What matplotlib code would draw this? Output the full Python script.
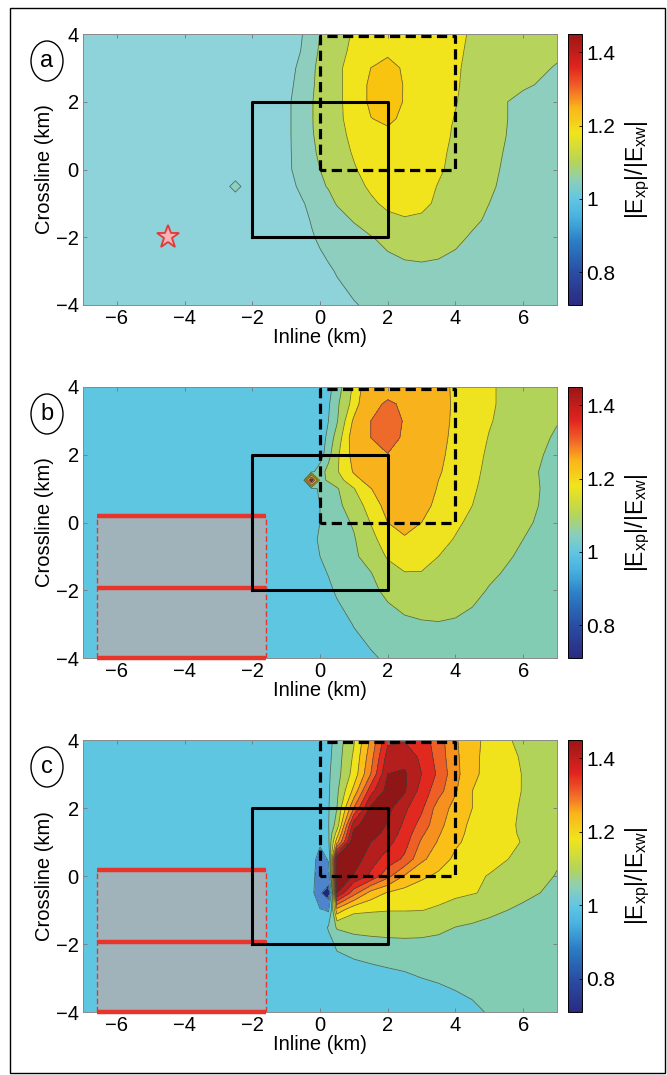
import numpy as np
import matplotlib
matplotlib.use("Agg")
import matplotlib.pyplot as plt
from matplotlib.colors import LinearSegmentedColormap, Normalize
from matplotlib.cm import ScalarMappable
from matplotlib.patches import Ellipse, Rectangle

plt.rcParams['font.family'] = ['Liberation Sans', 'DejaVu Sans']

# grid nodes (km); rows of the ratio tables run from crossline +4 down to -4
inline_km = [-7, -3, -2.5, -2, -1, -0.5, -0.25, 0, 0.25, 0.5, 1, 1.5, 2, 2.5, 3, 3.5, 4, 4.5, 5, 6, 7]
crossline_km = [4, 3.5, 3, 2.5, 2, 1.5, 1.25, 1, 0.5, 0, -0.5, -1, -1.5, -2, -3, -4]

# |Exp|/|Exw|
ratio_a = [
    [1.0, 1.0, 1.0, 1.0, 1.0, 1.031, 1.05, 1.07, 1.085, 1.10, 1.125, 1.15, 1.16, 1.16, 1.155, 1.145, 1.13, 1.115, 1.105, 1.09, 1.08],
    [1.0, 1.0, 1.0, 1.0, 1.0, 1.035, 1.055, 1.075, 1.09, 1.105, 1.13, 1.165, 1.185, 1.17, 1.155, 1.145, 1.13, 1.11, 1.10, 1.085, 1.075],
    [1.0, 1.0, 1.0, 1.0, 1.01, 1.045, 1.062, 1.08, 1.095, 1.11, 1.14, 1.2, 1.225, 1.19, 1.16, 1.145, 1.125, 1.11, 1.095, 1.08, 1.068],
    [1.0, 1.0, 1.0, 1.0, 1.015, 1.05, 1.065, 1.08, 1.092, 1.105, 1.15, 1.215, 1.24, 1.195, 1.165, 1.145, 1.125, 1.105, 1.09, 1.075, 1.06],
    [1.0, 1.0, 1.0, 1.0, 1.02, 1.055, 1.068, 1.08, 1.092, 1.105, 1.15, 1.215, 1.235, 1.195, 1.16, 1.14, 1.122, 1.105, 1.082, 1.06, 1.052],
    [1.0, 1.0, 1.0, 1.0, 1.02, 1.055, 1.068, 1.08, 1.092, 1.105, 1.145, 1.198, 1.215, 1.185, 1.155, 1.135, 1.118, 1.1, 1.082, 1.06, 1.05],
    [1.0, 1.0, 1.0, 1.0, 1.02, 1.055, 1.068, 1.079, 1.09, 1.102, 1.14, 1.185, 1.198, 1.178, 1.152, 1.133, 1.116, 1.1, 1.082, 1.059, 1.049],
    [1.0, 1.0, 1.0, 1.0, 1.02, 1.055, 1.067, 1.078, 1.089, 1.1, 1.135, 1.172, 1.187, 1.172, 1.15, 1.132, 1.115, 1.1, 1.082, 1.058, 1.048],
    [1.0, 1.0, 1.0, 1.0, 1.02, 1.053, 1.064, 1.075, 1.085, 1.095, 1.125, 1.157, 1.172, 1.162, 1.145, 1.128, 1.112, 1.098, 1.08, 1.055, 1.045],
    [1.0, 1.0, 1.0, 1.0, 1.02, 1.05, 1.06, 1.07, 1.08, 1.09, 1.115, 1.142, 1.158, 1.154, 1.142, 1.125, 1.11, 1.095, 1.078, 1.052, 1.042],
    [1.0, 1.0, 1.045, 1.0, 1.015, 1.04, 1.052, 1.065, 1.072, 1.08, 1.105, 1.127, 1.145, 1.145, 1.134, 1.118, 1.105, 1.09, 1.075, 1.05, 1.04],
    [1.0, 1.0, 1.0, 1.0, 1.01, 1.028, 1.039, 1.05, 1.061, 1.072, 1.09, 1.112, 1.13, 1.135, 1.128, 1.114, 1.1, 1.085, 1.07, 1.048, 1.038],
    [1.0, 1.0, 1.0, 1.0, 1.005, 1.022, 1.032, 1.042, 1.05, 1.058, 1.072, 1.09, 1.108, 1.116, 1.114, 1.104, 1.09, 1.076, 1.065, 1.045, 1.035],
    [1.0, 1.0, 1.0, 1.0, 1.0, 1.018, 1.027, 1.035, 1.042, 1.048, 1.058, 1.068, 1.08, 1.09, 1.092, 1.088, 1.078, 1.066, 1.058, 1.042, 1.033],
    [1.0, 1.0, 1.0, 1.0, 1.0, 1.008, 1.014, 1.02, 1.026, 1.032, 1.042, 1.05, 1.056, 1.06, 1.062, 1.06, 1.056, 1.052, 1.048, 1.04, 1.035],
    [1.0, 1.0, 1.0, 1.0, 1.0, 1.002, 1.006, 1.01, 1.015, 1.02, 1.028, 1.035, 1.04, 1.043, 1.045, 1.046, 1.046, 1.045, 1.044, 1.04, 1.036],
]

# panel b
ratio_b = [
    [1.0, 1.0, 1.0, 1.0, 1.0, 1.0, 1.0, 1.005, 1.02, 1.045, 1.13, 1.22, 1.23, 1.235, 1.22, 1.19, 1.16, 1.14, 1.125, 1.10, 1.085],
    [1.0, 1.0, 1.0, 1.0, 1.0, 1.0, 1.0, 1.005, 1.025, 1.06, 1.14, 1.24, 1.27, 1.25, 1.225, 1.195, 1.16, 1.14, 1.125, 1.1, 1.082],
    [1.0, 1.0, 1.0, 1.0, 1.0, 1.0, 1.0, 1.01, 1.03, 1.065, 1.18, 1.26, 1.29, 1.255, 1.225, 1.19, 1.16, 1.14, 1.123, 1.095, 1.072],
    [1.0, 1.0, 1.0, 1.0, 1.0, 1.0, 1.0, 1.01, 1.04, 1.09, 1.2, 1.26, 1.285, 1.25, 1.22, 1.185, 1.158, 1.138, 1.118, 1.09, 1.065],
    [1.0, 1.0, 1.0, 1.0, 1.0, 1.0, 1.0, 1.01, 1.055, 1.11, 1.19, 1.235, 1.258, 1.24, 1.215, 1.18, 1.155, 1.135, 1.113, 1.085, 1.06],
    [1.0, 1.0, 1.0, 1.0, 1.0, 1.0, 1.02, 1.05, 1.085, 1.115, 1.175, 1.22, 1.24, 1.232, 1.21, 1.175, 1.15, 1.13, 1.11, 1.08, 1.058],
    [1.0, 1.0, 1.0, 1.0, 1.0, 1.0, 1.38, 1.06, 1.075, 1.1, 1.15, 1.195, 1.225, 1.228, 1.208, 1.17, 1.148, 1.128, 1.108, 1.08, 1.059],
    [1.0, 1.0, 1.0, 1.0, 1.0, 1.0, 1.02, 1.035, 1.05, 1.065, 1.118, 1.168, 1.21, 1.225, 1.205, 1.165, 1.145, 1.125, 1.107, 1.08, 1.06],
    [1.0, 1.0, 1.0, 1.0, 1.0, 1.0, 1.012, 1.03, 1.045, 1.058, 1.095, 1.14, 1.19, 1.21, 1.19, 1.155, 1.135, 1.12, 1.104, 1.08, 1.058],
    [1.0, 1.0, 1.0, 1.0, 1.0, 1.0, 1.01, 1.03, 1.042, 1.052, 1.075, 1.122, 1.17, 1.195, 1.17, 1.145, 1.128, 1.11, 1.098, 1.075, 1.058],
    [1.0, 1.0, 1.0, 1.0, 1.0, 1.0, 1.02, 1.035, 1.045, 1.052, 1.066, 1.105, 1.145, 1.162, 1.155, 1.135, 1.117, 1.1, 1.09, 1.07, 1.055],
    [1.0, 1.0, 1.0, 1.0, 1.0, 1.0, 1.015, 1.03, 1.04, 1.048, 1.062, 1.09, 1.125, 1.14, 1.135, 1.12, 1.105, 1.092, 1.082, 1.065, 1.052],
    [1.0, 1.0, 1.0, 1.0, 1.0, 1.0, 1.005, 1.02, 1.032, 1.04, 1.052, 1.068, 1.1, 1.118, 1.118, 1.108, 1.095, 1.085, 1.075, 1.06, 1.05],
    [1.0, 1.0, 1.0, 1.0, 1.0, 1.0, 1.0, 1.012, 1.022, 1.036, 1.048, 1.062, 1.078, 1.092, 1.098, 1.095, 1.088, 1.078, 1.068, 1.055, 1.048],
    [1.0, 1.0, 1.0, 1.0, 1.0, 1.0, 1.0, 1.0, 1.005, 1.012, 1.032, 1.045, 1.055, 1.062, 1.066, 1.068, 1.066, 1.062, 1.058, 1.05, 1.045],
    [1.0, 1.0, 1.0, 1.0, 1.0, 1.0, 1.0, 1.0, 1.0, 1.002, 1.012, 1.025, 1.036, 1.042, 1.046, 1.048, 1.048, 1.047, 1.046, 1.043, 1.04],
]

# panel c
ratio_c = [
    [1.0, 1.0, 1.0, 1.0, 1.0, 1.0, 1.0, 1.0, 1.02, 1.042, 1.115, 1.23, 1.36, 1.365, 1.345, 1.295, 1.225, 1.19, 1.15, 1.105, 1.085],
    [1.0, 1.0, 1.0, 1.0, 1.0, 1.0, 1.0, 1.0, 1.022, 1.046, 1.128, 1.25, 1.39, 1.40, 1.36, 1.30, 1.23, 1.185, 1.15, 1.115, 1.09],
    [1.0, 1.0, 1.0, 1.0, 1.0, 1.0, 1.0, 1.0, 1.025, 1.05, 1.14, 1.27, 1.42, 1.428, 1.37, 1.31, 1.235, 1.18, 1.155, 1.118, 1.09],
    [1.0, 1.0, 1.0, 1.0, 1.0, 1.0, 1.0, 1.0, 1.026, 1.06, 1.185, 1.35, 1.44, 1.425, 1.35, 1.29, 1.225, 1.17, 1.153, 1.118, 1.09],
    [1.0, 1.0, 1.0, 1.0, 1.0, 1.0, 1.0, 1.0, 1.027, 1.07, 1.27, 1.43, 1.435, 1.38, 1.33, 1.245, 1.205, 1.17, 1.148, 1.115, 1.085],
    [1.0, 1.0, 1.0, 1.0, 1.0, 1.0, 1.0, 1.0, 1.028, 1.09, 1.40, 1.46, 1.415, 1.36, 1.30, 1.235, 1.19, 1.16, 1.145, 1.113, 1.078],
    [1.0, 1.0, 1.0, 1.0, 1.0, 1.0, 1.0, 0.99, 1.024, 1.14, 1.44, 1.445, 1.40, 1.35, 1.28, 1.225, 1.184, 1.158, 1.142, 1.115, 1.077],
    [1.0, 1.0, 1.0, 1.0, 1.0, 1.0, 1.0, 0.97, 1.02, 1.2, 1.47, 1.42, 1.385, 1.34, 1.262, 1.215, 1.178, 1.155, 1.14, 1.118, 1.075],
    [1.0, 1.0, 1.0, 1.0, 1.0, 1.0, 1.0, 0.9, 0.96, 1.46, 1.45, 1.39, 1.35, 1.31, 1.23, 1.195, 1.16, 1.145, 1.133, 1.11, 1.074],
    [1.0, 1.0, 1.0, 1.0, 1.0, 1.0, 1.0, 0.87, 0.9, 1.47, 1.415, 1.36, 1.285, 1.215, 1.18, 1.16, 1.142, 1.128, 1.118, 1.09, 1.068],
    [1.0, 1.0, 1.0, 1.0, 1.0, 1.0, 1.0, 0.82, 0.72, 1.42, 1.29, 1.2, 1.165, 1.15, 1.14, 1.133, 1.127, 1.122, 1.115, 1.08, 1.06],
    [1.0, 1.0, 1.0, 1.0, 1.0, 1.0, 1.0, 0.96, 0.94, 1.2, 1.13, 1.125, 1.122, 1.122, 1.121, 1.115, 1.105, 1.095, 1.08, 1.062, 1.052],
    [1.0, 1.0, 1.0, 1.0, 1.0, 1.0, 1.0, 1.0, 1.035, 1.075, 1.085, 1.088, 1.09, 1.09, 1.087, 1.08, 1.07, 1.063, 1.058, 1.05, 1.042],
    [1.0, 1.0, 1.0, 1.0, 1.0, 1.0, 1.0, 1.0, 1.015, 1.038, 1.05, 1.055, 1.058, 1.06, 1.06, 1.058, 1.055, 1.052, 1.05, 1.045, 1.04],
    [1.0, 1.0, 1.0, 1.0, 1.0, 1.0, 1.0, 1.0, 1.0, 1.0, 1.005, 1.012, 1.018, 1.023, 1.03, 1.034, 1.037, 1.039, 1.04, 1.04, 1.04],
    [1.0, 1.0, 1.0, 1.0, 1.0, 1.0, 1.0, 1.0, 1.0, 1.0, 1.0, 1.0, 1.0, 1.0, 1.0, 1.008, 1.018, 1.025, 1.032, 1.037, 1.038],
]

# contour levels and band colours
levels_a = [0.9, 1.03, 1.07, 1.12, 1.2, 1.5]
fills_a = ['#8ed2da', '#8ecebe', '#b6d45c', '#f1e31c', '#f9c40f']
levels_b = [0.9, 1.03, 1.07, 1.12, 1.17, 1.26, 1.33, 1.6]
fills_b = ['#5fc6e2', '#82ccb4', '#b2d35a', '#eee31e', '#f8b31c', '#ee6a2b', '#a8201c']
levels_c = [0.6, 0.8, 0.95, 1.03, 1.07, 1.12, 1.17, 1.22, 1.27, 1.32, 1.37, 1.42, 1.6]
fills_c = ['#1d2a78', '#4d84cc', '#5fc6e2', '#82ccb4', '#b2d35a', '#f0e31c', '#fbc017',
           '#f6901f', '#ee5f25', '#e2291f', '#b41e1c', '#8e1616']

# colour bar
cbar_values = [0.71, 0.80, 0.88, 0.95, 1.0, 1.05, 1.10, 1.18, 1.25, 1.30, 1.36, 1.45]
cbar_colors = ['#2b2a82', '#2a4ea4', '#2a7cc4', '#48b2e0', '#62c6e2', '#8ccfb8',
               '#b5d45a', '#f0e41c', '#fbb41a', '#f26a28', '#e2241f', '#9a1616']
cbar_ticks = [0.8, 1, 1.2, 1.4]

# annotations
source_a = (-4.5, -2.0)
survey_box_x, survey_box_y = [-2, 2], [-2, 2]
target_box_x, target_box_y = [0, 4], [0, 4]
reservoir_x = [-6.6, -1.6]
reservoir_y = [-4.0, -1.93, 0.18]

W, H = 667, 1075
fig = plt.figure(figsize=(W / 100, H / 100), dpi=100)


def px_axes(left, top, right, bottom):
    return fig.add_axes([left / W, 1 - bottom / H, (right - left) / W, (bottom - top) / H])


vmin, vmax = cbar_values[0], cbar_values[-1]
pos = [(v - vmin) / (vmax - vmin) for v in cbar_values]
cmap = LinearSegmentedColormap.from_list('ratio', list(zip(pos, cbar_colors)))
norm = Normalize(vmin, vmax)

X = np.array(inline_km)
Y = np.array(crossline_km)[::-1]

panels = [
    ('a', ratio_a, levels_a, fills_a, 34, 305, False),
    ('b', ratio_b, levels_b, fills_b, 387, 658, True),
    ('c', ratio_c, levels_c, fills_c, 740, 1012, True),
]

for letter, ratio, levels, fills, top, bottom, reservoir in panels:
    ax = px_axes(83, top, 557, bottom)
    Z = np.array(ratio)[::-1]
    ax.contourf(X, Y, Z, levels=levels, colors=fills)
    ax.contour(X, Y, Z, levels=levels[1:-1], colors='#33443f', linewidths=0.55, alpha=0.75)

    if reservoir:
        ax.add_patch(Rectangle((reservoir_x[0], reservoir_y[0]), reservoir_x[1] - reservoir_x[0],
                               reservoir_y[-1] - reservoir_y[0], facecolor='#a0b3ba',
                               edgecolor='none', zorder=3))
        for xr in reservoir_x:
            ax.plot([xr, xr], [reservoir_y[0], reservoir_y[-1]], color='#e8352c', lw=1,
                    ls=(0, (4, 2)), zorder=4)
        ax.hlines(reservoir_y, reservoir_x[0], reservoir_x[1], color='#e8352c', lw=3.2,
                  zorder=5, clip_on=False)
    else:
        ax.plot(*source_a, marker='*', ms=17, mfc='#f5b3b3', mec='#e03a3a', mew=1.3, zorder=6)

    x0, x1 = survey_box_x
    y0, y1 = survey_box_y
    ax.plot([x0, x1, x1, x0, x0], [y0, y0, y1, y1, y0], color='k', lw=2.2, zorder=6)
    x0, x1 = target_box_x
    y0, y1 = target_box_y
    ax.plot([x0, x0, x1, x1, x0], [y0, y1 - 0.05, y1 - 0.05, y0, y0], color='k', lw=2.3,
            ls=(0, (3.2, 1.7)), zorder=6, clip_on=False)

    ax.set_xlim(-7, 7)
    ax.set_ylim(-4, 4)
    ax.set_xticks(range(-6, 7, 2))
    ax.set_yticks(range(-4, 5, 2))
    ax.tick_params(direction='in', length=3, width=0.6, color='#777777', top=True, right=True,
                   labelsize=14.5, pad=3)
    for s in ax.spines.values():
        s.set_color('#8a8a8a')
        s.set_linewidth(0.7)
    ax.set_xlabel('Inline (km)', fontsize=14.5, labelpad=0)
    ax.set_ylabel('Crossline (km)', fontsize=14.5, labelpad=1)

    cax = px_axes(568, top, 582, bottom)
    cb = fig.colorbar(ScalarMappable(norm=norm, cmap=cmap), cax=cax, ticks=cbar_ticks)
    cb.ax.set_yticklabels(['0.8', '1', '1.2', '1.4'])
    cb.ax.tick_params(labelsize=15, length=2, width=0.6, direction='in', pad=3)
    cb.outline.set_linewidth(0.7)
    cb.set_label(r'$\mathregular{|E_{xp}|/|E_{xw}|}$', fontsize=16.5, labelpad=6)

    cy = top + 27
    fig.add_artist(Ellipse((47 / W, 1 - cy / H), 32 / W, 40 / H, transform=fig.transFigure,
                           facecolor='white', edgecolor='k', lw=1))
    fig.text(47 / W, 1 - cy / H, letter, ha='center', va='center', fontsize=17)

fig.add_artist(Rectangle((10 / W, 1 - 1073 / H), 655 / W, 1065 / H, transform=fig.transFigure,
                         fill=False, edgecolor='k', lw=1))

fig.savefig('out.png', dpi=100)
